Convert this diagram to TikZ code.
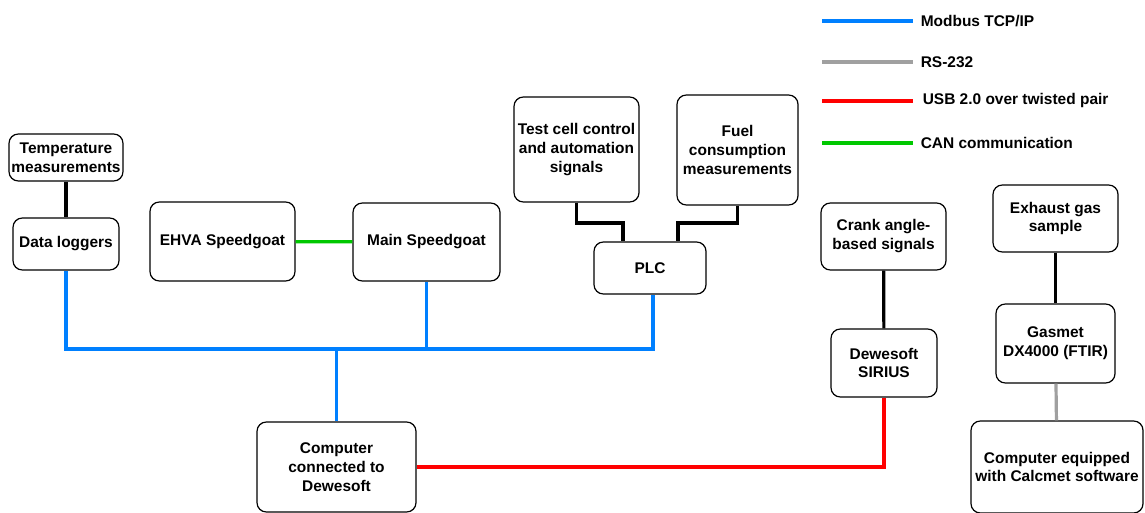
\documentclass[tikz,border=0pt]{standalone}
\usepackage{fontspec}
\setmainfont{Liberation Sans}
\usepackage{xcolor}
\usetikzlibrary{calc}

\definecolor{modbusblue}{RGB}{0,128,255}
\definecolor{rsgray}{RGB}{160,160,160}
\definecolor{usbred}{RGB}{255,0,0}
\definecolor{cangreen}{RGB}{0,200,0}

\begin{document}
\begin{tikzpicture}[
    x=0.75pt, y=-0.75pt,
    box/.style 2 args={
        draw,
        rounded corners=7pt,
        line width=0.9pt,
        minimum width=#1*0.75pt,
        minimum height=#2*0.75pt,
        align=center,
        inner sep=1pt,
        font=\fontsize{11.6}{14.2}\selectfont\bfseries
    },
    wire/.style={line width=2.4pt, black},
    modbus/.style={line width=2.4pt, modbusblue},
    rs/.style={line width=2.4pt, rsgray},
    usb/.style={line width=2.4pt, usbred},
    can/.style={line width=2.4pt, cangreen},
    legendtext/.style={anchor=west, font=\fontsize{11.6}{14.2}\selectfont\bfseries}
]
    \useasboundingbox (0,0) rectangle (1145,513);

    % legend
    \coordinate (lgA) at (822,21);
    \coordinate (lgB) at (822,62);
    \coordinate (lgC) at (822,101);
    \coordinate (lgD) at (822,143);
    \draw[modbus, line width=3pt] (lgA) -- ++(91,0) node[legendtext, black, right=1pt] (lgtextA) {Modbus TCP/IP};
    \draw[rs, line width=3pt] (lgB) -- ++(91,0) node[legendtext, black, right=1pt] (lgtextB) {RS-232};
    \draw[usb, line width=3pt] (lgC) -- ++(91,0) node[legendtext, black, right=2.5pt] (lgtextC) {USB 2.0 over twisted pair};
    \draw[can, line width=3pt] (lgD) -- ++(91,0) node[legendtext, black, right=1pt] (lgtextD) {CAN communication};

    % boxes
    \node[box={114}{47}] (temp) at (66,157.5) {Temperature\\measurements};
    \node[box={106}{52}] (loggers) at (66,244) {Data loggers};
    \node[box={145}{79}] (ehva) at (222.5,241.5) {EHVA Speedgoat};
    \node[box={147}{78}] (main) at (426.5,242) {Main Speedgoat};
    \node[box={125}{105}] (testcell) at (576.5,149.5) {Test cell control\\and automation\\signals};
    \node[box={121}{110}] (fuel) at (737.5,150) {Fuel\\consumption\\measurements};
    \node[box={112}{52}] (plc) at (650,268) {PLC};
    \node[box={125}{67}] (crank) at (883.5,236.5) {Crank angle-\\based signals};
    \node[box={106}{68}] (sirius) at (884,363) {Dewesoft\\SIRIUS};
    \node[box={125}{67}] (exhaust) at (1055.5,218.5) {Exhaust gas\\sample};
    \node[box={119}{79}] (gasmet) at (1055.5,343.5) {Gasmet\\DX4000 (FTIR)};
    \node[box={172}{92}] (calcmet) at (1057,467) {Computer equipped\\with Calcmet software};
    \node[box={159}{90}] (pc) at (336.5,467) {Computer\\connected to\\Dewesoft};

    % junctions
    \coordinate (bus) at (0,349);
    \coordinate (plcjn) at (0,223);

    % connections
    \draw[wire] (temp) -- (loggers);
    \draw[can] (ehva) -- (main);
    \draw[wire] (testcell.south) -- (testcell.south |- plcjn) -| ($(plc.north)+(-27,0)$);
    \draw[wire] (fuel.south) -- (fuel.south |- plcjn) -| ($(plc.north)+(28,0)$);
    \draw[modbus] (loggers.south) -- (loggers.south |- bus) -- ($(plc.south |- bus)+(3,0)$) -- ($(plc.south)+(3,0)$);
    \draw[modbus] (main.south) -- (main.south |- bus);
    \draw[modbus] (pc.north) -- (pc.north |- bus);
    \draw[usb] (pc.east) -| (sirius.south);
    \draw[wire] (crank) -- (sirius);
    \draw[wire] (exhaust) -- (gasmet);
    \draw[rs] (gasmet) -- (calcmet);
\end{tikzpicture}
\end{document}
